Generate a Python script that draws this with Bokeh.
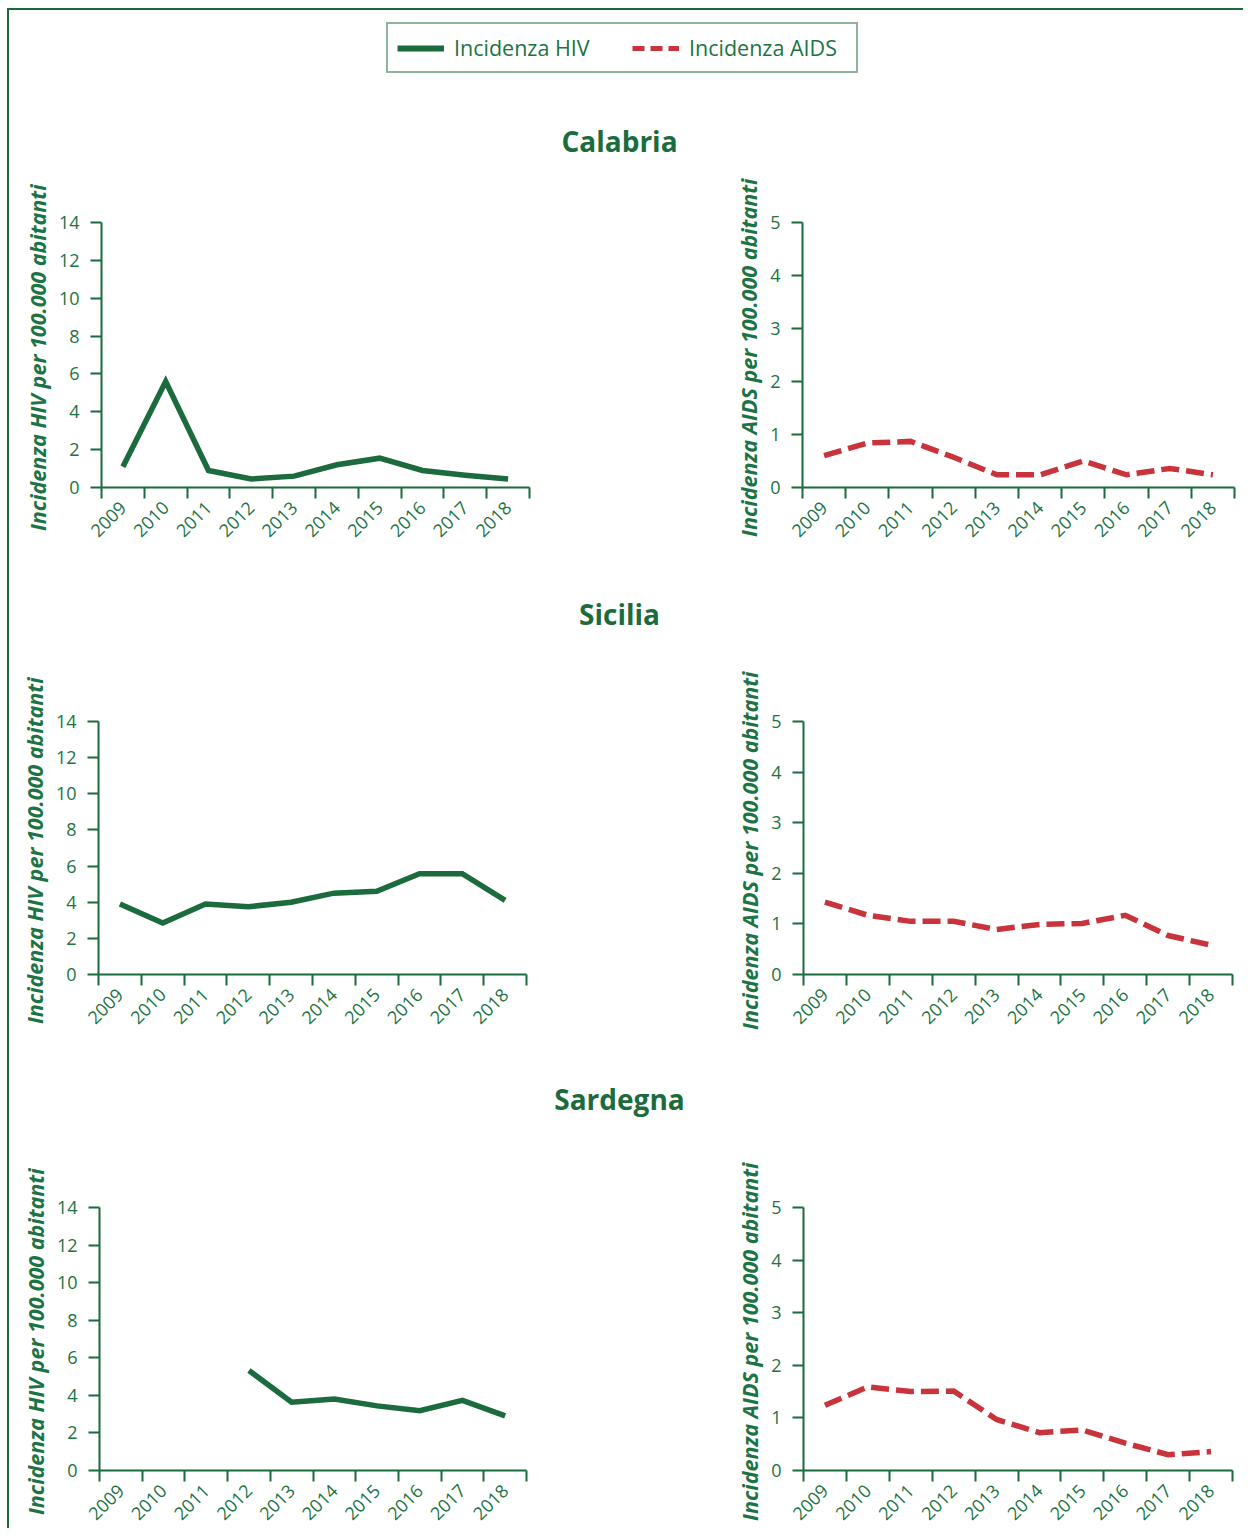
import math
import numpy as np
from bokeh.plotting import figure
from bokeh.models import Range1d, FixedTicker, Legend, LegendItem, ColumnDataSource
from bokeh.layouts import column, row
from bokeh.embed import file_html
from bokeh.resources import INLINE

# ---------------- data ----------------
years = [2009, 2010, 2011, 2012, 2013, 2014, 2015, 2016, 2017, 2018]
regions = ["Calabria", "Sicilia", "Sardegna"]

calabria_hiv = [1.1, 5.6, 0.9, 0.45, 0.6, 1.2, 1.55, 0.9, 0.65, 0.45]
calabria_aids = [0.6, 0.84, 0.87, 0.57, 0.24, 0.24, 0.5, 0.24, 0.36, 0.24]
sicilia_hiv = [3.9, 2.85, 3.9, 3.75, 4.0, 4.5, 4.6, 5.58, 5.58, 4.1]
sicilia_aids = [1.43, 1.17, 1.05, 1.05, 0.89, 0.99, 1.01, 1.17, 0.77, 0.58]
sardegna_hiv = [None, None, None, 5.32, 3.64, 3.8, 3.44, 3.18, 3.73, 2.91]
sardegna_aids = [1.24, 1.59, 1.5, 1.51, 0.97, 0.72, 0.77, 0.52, 0.3, 0.36]

hiv_ticks = [0, 2, 4, 6, 8, 10, 12, 14]
aids_ticks = [0, 1, 2, 3, 4, 5]

hiv_label = "Incidenza  HIV per 100.000 abitanti"
aids_label = "Incidenza  AIDS per 100.000 abitanti"
legend_labels = ["Incidenza HIV", "Incidenza AIDS"]

# ---------------- style ----------------
GREEN = "#1b6b3d"
TEXT = "#1c7343"
RED = "#c8333c"
FONT = "Open Sans"

def arr(v):
    return np.array([np.nan if x is None else x for x in v], dtype=float)

def panel(values, ticks, ylabel, color, dash, w, h, bl, br, bt, bb):
    p = figure(width=w, height=h,
               x_range=Range1d(years[0] - 0.5, years[-1] + 0.5),
               y_range=Range1d(ticks[0], ticks[-1]),
               toolbar_location=None, output_backend="svg",
               min_border_left=bl, min_border_right=br,
               min_border_top=bt, min_border_bottom=bb)
    p.grid.visible = False
    p.outline_line_color = None
    src = ColumnDataSource(dict(x=np.array(years, dtype=float), y=arr(values)))
    kw = dict(line_color=color, line_width=5.5, line_join="miter")
    if dash:
        kw["line_dash"] = dash
    p.line("x", "y", source=src, **kw)

    bounds = [y - 0.5 for y in years] + [years[-1] + 0.5]
    xa = p.xaxis[0]
    xa.ticker = FixedTicker(ticks=years, minor_ticks=bounds)
    xa.major_label_overrides = {y: str(y) for y in years}
    xa.major_tick_out = 0
    xa.major_tick_in = 0
    xa.minor_tick_out = 11
    xa.minor_tick_in = 0
    xa.minor_tick_line_color = GREEN
    xa.minor_tick_line_width = 2
    xa.axis_line_color = GREEN
    xa.axis_line_width = 2
    xa.major_label_orientation = math.pi / 4
    xa.major_label_standoff = 6
    xa.major_label_text_font = FONT
    xa.major_label_text_font_size = "18px"
    xa.major_label_text_color = TEXT

    ya = p.yaxis[0]
    ya.ticker = FixedTicker(ticks=ticks, minor_ticks=[])
    ya.major_tick_out = 11
    ya.major_tick_in = 0
    ya.major_tick_line_color = GREEN
    ya.major_tick_line_width = 2
    ya.axis_line_color = GREEN
    ya.axis_line_width = 2
    ya.major_label_standoff = 11
    ya.major_label_text_font = FONT
    ya.major_label_text_font_size = "18px"
    ya.major_label_text_color = TEXT
    ya.axis_label = ylabel
    ya.axis_label_text_font = FONT
    ya.axis_label_text_font_size = "21.5px"
    ya.axis_label_text_font_style = "bold italic"
    ya.axis_label_text_color = TEXT
    ya.axis_label_standoff = 4
    return p

def title_fig(name, h):
    t = figure(width=1220, height=h, x_axis_type=None, y_axis_type=None,
               toolbar_location=None, output_backend="svg", min_border=0,
               title=name)
    t.outline_line_color = None
    t.grid.visible = False
    t.title.align = "center"
    t.title.text_font = FONT
    t.title.text_font_size = "28px"
    t.title.text_font_style = "bold"
    t.title.text_color = GREEN
    return t

# ---------------- header with legend ----------------
HDR_H = 104
hdr = figure(width=1234, height=HDR_H, x_axis_type=None, y_axis_type=None,
             x_range=Range1d(0, 1), y_range=Range1d(0, 1),
             toolbar_location=None, output_backend="svg", min_border=0)
hdr.outline_line_color = None
hdr.grid.visible = False
r1 = hdr.line(x=[np.nan], y=[np.nan], line_color=GREEN, line_width=6)
r2 = hdr.line(x=[np.nan], y=[np.nan], line_color=RED, line_width=5, line_dash="12 6")
leg = Legend(items=[LegendItem(label=legend_labels[0], renderers=[r1]),
                    LegendItem(label=legend_labels[1], renderers=[r2])],
             orientation="horizontal", location=(377, 41),
             border_line_color=GREEN, border_line_width=2,
             padding=9, spacing=20, label_standoff=10,
             glyph_width=47, glyph_height=20, label_height=20,
             label_width=158,
             label_text_font=FONT, label_text_font_size="21.5px",
             label_text_line_height=1.0,
             label_text_color=TEXT, background_fill_alpha=0, margin=0)
hdr.add_layout(leg, "center")

# ---------------- panels ----------------
series = [(calabria_hiv, calabria_aids), (sicilia_hiv, sicilia_aids), (sardegna_hiv, sardegna_aids)]
# (row height, left: bl, br, bt, bb ; right: bl, br, bt, bb)
geo = [
    (413, (92, 170, 48, 100), (103, 9, 48, 100)),
    (425, (89, 173, 74, 98), (104, 11, 60, 98)),
    (396, (90, 173, 56, 55), (104, 11, 75, 55)),
]
children = [hdr]
for name, (hv, av), (h, gl, gr) in zip(regions, series, geo):
    children.append(title_fig(name, 60))
    left = panel(hv, hiv_ticks, hiv_label, GREEN, None, 690, h, *gl)
    right = panel(av, aids_ticks, aids_label, RED, "18 7", 544, h, *gr)
    children.append(row(left, right))

page = column(*children, styles={"border-left": f"2px solid {GREEN}",
                                 "border-top": f"2px solid {GREEN}",
                                 "margin-left": "7px", "margin-top": "8px"})

open("out.html", "w").write(file_html(page, INLINE))
